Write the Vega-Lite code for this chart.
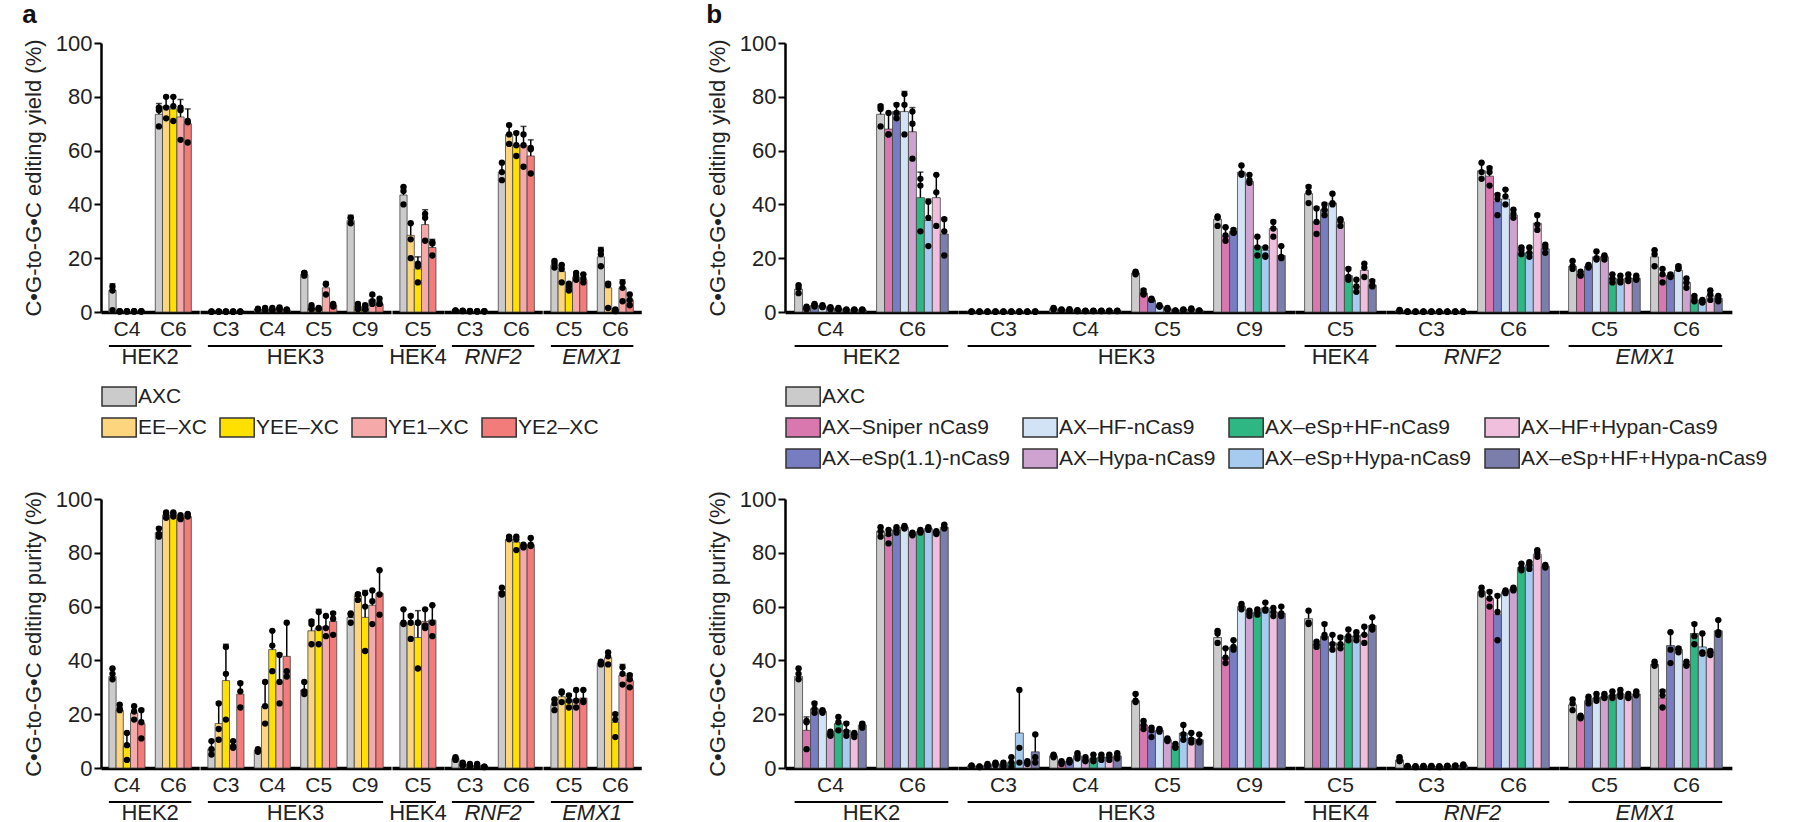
{
"$schema": "https://vega.github.io/schema/vega-lite/v6.json",
"background": "white",
"padding": {"left": 22, "top": 2, "right": 2, "bottom": 0},
"config": {"view": {"stroke": null}, "axis": {"grid": false, "labelOverlap": false}, "font": "Liberation Sans"},
"datasets": {
"ay": [
{"gene":"HEK2","site":"C4","variant":"AXC","mean":8,"hi":10.5,"r1":9.5,"r2":8,"r3":0.7},
{"gene":"HEK2","site":"C4","variant":"EE–XC","mean":0.2,"hi":0.2,"r1":0.3,"r2":0.2,"r3":0.2},
{"gene":"HEK2","site":"C4","variant":"YEE–XC","mean":0.2,"hi":0.2,"r1":0.3,"r2":0.2,"r3":0.2},
{"gene":"HEK2","site":"C4","variant":"YE1–XC","mean":0.2,"hi":0.2,"r1":0.3,"r2":0.2,"r3":0.2},
{"gene":"HEK2","site":"C4","variant":"YE2–XC","mean":0.2,"hi":0.2,"r1":0.3,"r2":0.2,"r3":0.2},
{"gene":"HEK2","site":"C6","variant":"AXC","mean":73.5,"hi":77.5,"r1":76,"r2":75,"r3":69},
{"gene":"HEK2","site":"C6","variant":"EE–XC","mean":76.5,"hi":80,"r1":80,"r2":76,"r3":72},
{"gene":"HEK2","site":"C6","variant":"YEE–XC","mean":75.5,"hi":80,"r1":80,"r2":76.5,"r3":71},
{"gene":"HEK2","site":"C6","variant":"YE1–XC","mean":72.5,"hi":79,"r1":76,"r2":75,"r3":64},
{"gene":"HEK2","site":"C6","variant":"YE2–XC","mean":70,"hi":75.5,"r1":71,"r2":70.5,"r3":63},
{"gene":"HEK3","site":"C3","variant":"AXC","mean":0.1,"hi":0.1,"r1":0.2,"r2":0.1,"r3":0.1},
{"gene":"HEK3","site":"C3","variant":"EE–XC","mean":0.1,"hi":0.1,"r1":0.2,"r2":0.1,"r3":0.1},
{"gene":"HEK3","site":"C3","variant":"YEE–XC","mean":0.1,"hi":0.1,"r1":0.2,"r2":0.1,"r3":0.1},
{"gene":"HEK3","site":"C3","variant":"YE1–XC","mean":0.1,"hi":0.1,"r1":0.2,"r2":0.1,"r3":0.1},
{"gene":"HEK3","site":"C3","variant":"YE2–XC","mean":0.1,"hi":0.1,"r1":0.2,"r2":0.1,"r3":0.1},
{"gene":"HEK3","site":"C4","variant":"AXC","mean":1,"hi":1.2,"r1":1.2,"r2":1,"r3":0.8},
{"gene":"HEK3","site":"C4","variant":"EE–XC","mean":1,"hi":1.3,"r1":1.5,"r2":1,"r3":0.6},
{"gene":"HEK3","site":"C4","variant":"YEE–XC","mean":1,"hi":1.4,"r1":1.5,"r2":1,"r3":0.5},
{"gene":"HEK3","site":"C4","variant":"YE1–XC","mean":1.2,"hi":1.6,"r1":1.7,"r2":1.2,"r3":0.8},
{"gene":"HEK3","site":"C4","variant":"YE2–XC","mean":0.8,"hi":1,"r1":1,"r2":0.8,"r3":0.5},
{"gene":"HEK3","site":"C5","variant":"AXC","mean":14,"hi":14.8,"r1":14.5,"r2":14.5,"r3":13.5},
{"gene":"HEK3","site":"C5","variant":"EE–XC","mean":1.5,"hi":2,"r1":2.5,"r2":1.2,"r3":1},
{"gene":"HEK3","site":"C5","variant":"YEE–XC","mean":1.2,"hi":1.6,"r1":1.5,"r2":1.2,"r3":1},
{"gene":"HEK3","site":"C5","variant":"YE1–XC","mean":9,"hi":11,"r1":10.5,"r2":10.3,"r3":6.5},
{"gene":"HEK3","site":"C5","variant":"YE2–XC","mean":2.5,"hi":3,"r1":3,"r2":2.5,"r3":2},
{"gene":"HEK3","site":"C9","variant":"AXC","mean":34,"hi":36,"r1":35,"r2":35,"r3":33},
{"gene":"HEK3","site":"C9","variant":"EE–XC","mean":2,"hi":3,"r1":3,"r2":2,"r3":1},
{"gene":"HEK3","site":"C9","variant":"YEE–XC","mean":1.5,"hi":2.2,"r1":2.5,"r2":1,"r3":1},
{"gene":"HEK3","site":"C9","variant":"YE1–XC","mean":4.5,"hi":6,"r1":6.5,"r2":4,"r3":3},
{"gene":"HEK3","site":"C9","variant":"YE2–XC","mean":3,"hi":4,"r1":5,"r2":3,"r3":3},
{"gene":"HEK4","site":"C5","variant":"AXC","mean":43.5,"hi":46.5,"r1":46.5,"r2":45,"r3":40},
{"gene":"HEK4","site":"C5","variant":"EE–XC","mean":28.5,"hi":33,"r1":33,"r2":27,"r3":20},
{"gene":"HEK4","site":"C5","variant":"YEE–XC","mean":16,"hi":20.5,"r1":18,"r2":17,"r3":11},
{"gene":"HEK4","site":"C5","variant":"YE1–XC","mean":32.5,"hi":38,"r1":36.5,"r2":35,"r3":26.5},
{"gene":"HEK4","site":"C5","variant":"YE2–XC","mean":24,"hi":27,"r1":26,"r2":25.5,"r3":21},
{"gene":"RNF2","site":"C3","variant":"AXC","mean":0.5,"hi":0.6,"r1":0.6,"r2":0.5,"r3":0.4},
{"gene":"RNF2","site":"C3","variant":"EE–XC","mean":0.4,"hi":0.5,"r1":0.5,"r2":0.4,"r3":0.3},
{"gene":"RNF2","site":"C3","variant":"YEE–XC","mean":0.3,"hi":0.3,"r1":0.4,"r2":0.3,"r3":0.2},
{"gene":"RNF2","site":"C3","variant":"YE1–XC","mean":0.2,"hi":0.2,"r1":0.3,"r2":0.2,"r3":0.2},
{"gene":"RNF2","site":"C3","variant":"YE2–XC","mean":0.2,"hi":0.2,"r1":0.3,"r2":0.2,"r3":0.2},
{"gene":"RNF2","site":"C6","variant":"AXC","mean":52,"hi":55.5,"r1":55.5,"r2":52,"r3":49},
{"gene":"RNF2","site":"C6","variant":"EE–XC","mean":66,"hi":69.5,"r1":69.5,"r2":66,"r3":62.5},
{"gene":"RNF2","site":"C6","variant":"YEE–XC","mean":62,"hi":67,"r1":66.5,"r2":62,"r3":58},
{"gene":"RNF2","site":"C6","variant":"YE1–XC","mean":62,"hi":69,"r1":66,"r2":62,"r3":54},
{"gene":"RNF2","site":"C6","variant":"YE2–XC","mean":58,"hi":64,"r1":61,"r2":60.5,"r3":51.5},
{"gene":"EMX1","site":"C5","variant":"AXC","mean":17.5,"hi":19,"r1":19,"r2":18,"r3":16.5},
{"gene":"EMX1","site":"C5","variant":"EE–XC","mean":15,"hi":17.5,"r1":17.5,"r2":16,"r3":11},
{"gene":"EMX1","site":"C5","variant":"YEE–XC","mean":9,"hi":10.5,"r1":10.5,"r2":9.5,"r3":8},
{"gene":"EMX1","site":"C5","variant":"YE1–XC","mean":13,"hi":14.5,"r1":14.5,"r2":13.5,"r3":12},
{"gene":"EMX1","site":"C5","variant":"YE2–XC","mean":12,"hi":14,"r1":14,"r2":12.5,"r3":11},
{"gene":"EMX1","site":"C6","variant":"AXC","mean":20.5,"hi":24,"r1":23,"r2":21.5,"r3":17},
{"gene":"EMX1","site":"C6","variant":"EE–XC","mean":9,"hi":11,"r1":10.5,"r2":10,"r3":1.5},
{"gene":"EMX1","site":"C6","variant":"YEE–XC","mean":0.5,"hi":1,"r1":1,"r2":0.5,"r3":0.3},
{"gene":"EMX1","site":"C6","variant":"YE1–XC","mean":9,"hi":12,"r1":11,"r2":9,"r3":4},
{"gene":"EMX1","site":"C6","variant":"YE2–XC","mean":4.5,"hi":6.5,"r1":6.5,"r2":4.5,"r3":2.5}
],
"ap": [
{"gene":"HEK2","site":"C4","variant":"AXC","mean":34,"hi":37,"r1":37,"r2":35,"r3":33},
{"gene":"HEK2","site":"C4","variant":"EE–XC","mean":21.5,"hi":23.5,"r1":23.5,"r2":22,"r3":21.5},
{"gene":"HEK2","site":"C4","variant":"YEE–XC","mean":8,"hi":13,"r1":13,"r2":8.5,"r3":3},
{"gene":"HEK2","site":"C4","variant":"YE1–XC","mean":20.5,"hi":23,"r1":23,"r2":21,"r3":18},
{"gene":"HEK2","site":"C4","variant":"YE2–XC","mean":16.5,"hi":22,"r1":21.5,"r2":17,"r3":11},
{"gene":"HEK2","site":"C6","variant":"AXC","mean":87.5,"hi":89.5,"r1":89,"r2":87,"r3":86},
{"gene":"HEK2","site":"C6","variant":"EE–XC","mean":94,"hi":95,"r1":95,"r2":94.5,"r3":93},
{"gene":"HEK2","site":"C6","variant":"YEE–XC","mean":94,"hi":95,"r1":95,"r2":94.5,"r3":93.5},
{"gene":"HEK2","site":"C6","variant":"YE1–XC","mean":93,"hi":94,"r1":94,"r2":93,"r3":92.5},
{"gene":"HEK2","site":"C6","variant":"YE2–XC","mean":93.5,"hi":94.5,"r1":94.5,"r2":94,"r3":93.5},
{"gene":"HEK3","site":"C3","variant":"AXC","mean":7,"hi":10,"r1":10,"r2":7,"r3":5},
{"gene":"HEK3","site":"C3","variant":"EE–XC","mean":16.5,"hi":24.5,"r1":24,"r2":14.5,"r3":10.5},
{"gene":"HEK3","site":"C3","variant":"YEE–XC","mean":32.5,"hi":46,"r1":45,"r2":35,"r3":18},
{"gene":"HEK3","site":"C3","variant":"YE1–XC","mean":8.5,"hi":10,"r1":10,"r2":8,"r3":7.5},
{"gene":"HEK3","site":"C3","variant":"YE2–XC","mean":27.5,"hi":32,"r1":31.5,"r2":28.5,"r3":22.5},
{"gene":"HEK3","site":"C4","variant":"AXC","mean":6.5,"hi":7,"r1":7,"r2":6.5,"r3":6},
{"gene":"HEK3","site":"C4","variant":"EE–XC","mean":23,"hi":32,"r1":32,"r2":23,"r3":16.5},
{"gene":"HEK3","site":"C4","variant":"YEE–XC","mean":44,"hi":51,"r1":51,"r2":45.5,"r3":36},
{"gene":"HEK3","site":"C4","variant":"YE1–XC","mean":32,"hi":42.5,"r1":42,"r2":32,"r3":24},
{"gene":"HEK3","site":"C4","variant":"YE2–XC","mean":41.5,"hi":54,"r1":54,"r2":36,"r3":34},
{"gene":"HEK3","site":"C5","variant":"AXC","mean":29,"hi":32,"r1":32,"r2":28.5,"r3":27.5},
{"gene":"HEK3","site":"C5","variant":"EE–XC","mean":51,"hi":55,"r1":54.5,"r2":53.5,"r3":46},
{"gene":"HEK3","site":"C5","variant":"YEE–XC","mean":52,"hi":59,"r1":58,"r2":52,"r3":46},
{"gene":"HEK3","site":"C5","variant":"YE1–XC","mean":52.5,"hi":56,"r1":56.5,"r2":52,"r3":49},
{"gene":"HEK3","site":"C5","variant":"YE2–XC","mean":54.5,"hi":58,"r1":57.5,"r2":55.5,"r3":49.5},
{"gene":"HEK3","site":"C9","variant":"AXC","mean":56,"hi":57.5,"r1":57.5,"r2":57,"r3":54},
{"gene":"HEK3","site":"C9","variant":"EE–XC","mean":64,"hi":65,"r1":64.5,"r2":64.5,"r3":62.5},
{"gene":"HEK3","site":"C9","variant":"YEE–XC","mean":56,"hi":66,"r1":65,"r2":60,"r3":43.5},
{"gene":"HEK3","site":"C9","variant":"YE1–XC","mean":60.5,"hi":66,"r1":66,"r2":62,"r3":53.5},
{"gene":"HEK3","site":"C9","variant":"YE2–XC","mean":65,"hi":73.5,"r1":73.5,"r2":64.5,"r3":57},
{"gene":"HEK4","site":"C5","variant":"AXC","mean":54,"hi":59,"r1":59,"r2":54,"r3":53.5},
{"gene":"HEK4","site":"C5","variant":"EE–XC","mean":53.5,"hi":57,"r1":56.5,"r2":54,"r3":48},
{"gene":"HEK4","site":"C5","variant":"YEE–XC","mean":48.5,"hi":58.5,"r1":54,"r2":54,"r3":37},
{"gene":"HEK4","site":"C5","variant":"YE1–XC","mean":54.5,"hi":59,"r1":59,"r2":53,"r3":52},
{"gene":"HEK4","site":"C5","variant":"YE2–XC","mean":55,"hi":60.5,"r1":60.5,"r2":54,"r3":49},
{"gene":"RNF2","site":"C3","variant":"AXC","mean":3.5,"hi":4,"r1":4,"r2":3.5,"r3":3},
{"gene":"RNF2","site":"C3","variant":"EE–XC","mean":1.5,"hi":2,"r1":2,"r2":1,"r3":1},
{"gene":"RNF2","site":"C3","variant":"YEE–XC","mean":1,"hi":1.5,"r1":1.5,"r2":1,"r3":0.5},
{"gene":"RNF2","site":"C3","variant":"YE1–XC","mean":1,"hi":1.5,"r1":1.5,"r2":0.5,"r3":0.5},
{"gene":"RNF2","site":"C3","variant":"YE2–XC","mean":0.5,"hi":0.6,"r1":0.5,"r2":0.5,"r3":0.3},
{"gene":"RNF2","site":"C6","variant":"AXC","mean":65.5,"hi":67,"r1":67,"r2":65,"r3":64.5},
{"gene":"RNF2","site":"C6","variant":"EE–XC","mean":85,"hi":86,"r1":86,"r2":85.5,"r3":85},
{"gene":"RNF2","site":"C6","variant":"YEE–XC","mean":84,"hi":86,"r1":86,"r2":85,"r3":81},
{"gene":"RNF2","site":"C6","variant":"YE1–XC","mean":82.5,"hi":83,"r1":83,"r2":82.5,"r3":82},
{"gene":"RNF2","site":"C6","variant":"YE2–XC","mean":83,"hi":85.5,"r1":85.5,"r2":83,"r3":82.5},
{"gene":"EMX1","site":"C5","variant":"AXC","mean":23.5,"hi":25.5,"r1":25.5,"r2":24,"r3":21.5},
{"gene":"EMX1","site":"C5","variant":"EE–XC","mean":26.5,"hi":28.5,"r1":28.5,"r2":28,"r3":24.5},
{"gene":"EMX1","site":"C5","variant":"YEE–XC","mean":25,"hi":27.5,"r1":27,"r2":25,"r3":22.5},
{"gene":"EMX1","site":"C5","variant":"YE1–XC","mean":25.5,"hi":29,"r1":29,"r2":25,"r3":22.5},
{"gene":"EMX1","site":"C5","variant":"YE2–XC","mean":26,"hi":29,"r1":29,"r2":25,"r3":24.5},
{"gene":"EMX1","site":"C6","variant":"AXC","mean":39,"hi":39.5,"r1":39.5,"r2":39,"r3":38.5},
{"gene":"EMX1","site":"C6","variant":"EE–XC","mean":41,"hi":43,"r1":43,"r2":41.5,"r3":38.5},
{"gene":"EMX1","site":"C6","variant":"YEE–XC","mean":17,"hi":20.5,"r1":20,"r2":18,"r3":11.5},
{"gene":"EMX1","site":"C6","variant":"YE1–XC","mean":34.5,"hi":38.5,"r1":37.5,"r2":35,"r3":31},
{"gene":"EMX1","site":"C6","variant":"YE2–XC","mean":32.5,"hi":35,"r1":34.5,"r2":33,"r3":30}
],
"by": [
{"gene":"HEK2","site":"C4","variant":"AXC","mean":8.5,"hi":10,"r1":10,"r2":9,"r3":7},
{"gene":"HEK2","site":"C4","variant":"AX–Sniper nCas9","mean":1.5,"hi":2,"r1":2,"r2":1.5,"r3":1},
{"gene":"HEK2","site":"C4","variant":"AX–eSp(1.1)-nCas9","mean":2.5,"hi":3,"r1":3,"r2":2.5,"r3":2},
{"gene":"HEK2","site":"C4","variant":"AX–HF-nCas9","mean":2,"hi":2.5,"r1":2.5,"r2":2,"r3":1.8},
{"gene":"HEK2","site":"C4","variant":"AX–Hypa-nCas9","mean":1.5,"hi":1.8,"r1":1.8,"r2":1.5,"r3":1},
{"gene":"HEK2","site":"C4","variant":"AX–eSp+HF-nCas9","mean":1.2,"hi":1.4,"r1":1.5,"r2":1,"r3":1},
{"gene":"HEK2","site":"C4","variant":"AX–eSp+Hypa-nCas9","mean":0.8,"hi":1,"r1":1,"r2":0.8,"r3":0.5},
{"gene":"HEK2","site":"C4","variant":"AX–HF+Hypan-Cas9","mean":0.8,"hi":1,"r1":1,"r2":0.8,"r3":0.6},
{"gene":"HEK2","site":"C4","variant":"AX–eSp+HF+Hypa-nCas9","mean":0.8,"hi":1,"r1":1,"r2":0.8,"r3":0.6},
{"gene":"HEK2","site":"C6","variant":"AXC","mean":73.5,"hi":77,"r1":76.5,"r2":75.5,"r3":69},
{"gene":"HEK2","site":"C6","variant":"AX–Sniper nCas9","mean":68,"hi":74,"r1":74,"r2":66,"r3":66},
{"gene":"HEK2","site":"C6","variant":"AX–eSp(1.1)-nCas9","mean":74.5,"hi":77.5,"r1":77,"r2":74,"r3":72},
{"gene":"HEK2","site":"C6","variant":"AX–HF-nCas9","mean":74.5,"hi":82,"r1":81,"r2":77,"r3":66},
{"gene":"HEK2","site":"C6","variant":"AX–Hypa-nCas9","mean":67,"hi":76,"r1":74.5,"r2":70,"r3":57},
{"gene":"HEK2","site":"C6","variant":"AX–eSp+HF-nCas9","mean":42.5,"hi":52,"r1":49.5,"r2":47,"r3":30},
{"gene":"HEK2","site":"C6","variant":"AX–eSp+Hypa-nCas9","mean":34,"hi":42,"r1":41,"r2":35,"r3":24.5},
{"gene":"HEK2","site":"C6","variant":"AX–HF+Hypan-Cas9","mean":42.5,"hi":51,"r1":51,"r2":44.5,"r3":32},
{"gene":"HEK2","site":"C6","variant":"AX–eSp+HF+Hypa-nCas9","mean":29,"hi":35,"r1":34.5,"r2":30,"r3":21},
{"gene":"HEK3","site":"C3","variant":"AXC","mean":0.1,"hi":0.1,"r1":0.2,"r2":0.1,"r3":0.1},
{"gene":"HEK3","site":"C3","variant":"AX–Sniper nCas9","mean":0.1,"hi":0.1,"r1":0.2,"r2":0.1,"r3":0.1},
{"gene":"HEK3","site":"C3","variant":"AX–eSp(1.1)-nCas9","mean":0.1,"hi":0.1,"r1":0.2,"r2":0.1,"r3":0.1},
{"gene":"HEK3","site":"C3","variant":"AX–HF-nCas9","mean":0.1,"hi":0.1,"r1":0.2,"r2":0.1,"r3":0.1},
{"gene":"HEK3","site":"C3","variant":"AX–Hypa-nCas9","mean":0.1,"hi":0.1,"r1":0.2,"r2":0.1,"r3":0.1},
{"gene":"HEK3","site":"C3","variant":"AX–eSp+HF-nCas9","mean":0.1,"hi":0.1,"r1":0.2,"r2":0.1,"r3":0.1},
{"gene":"HEK3","site":"C3","variant":"AX–eSp+Hypa-nCas9","mean":0.1,"hi":0.1,"r1":0.2,"r2":0.1,"r3":0.1},
{"gene":"HEK3","site":"C3","variant":"AX–HF+Hypan-Cas9","mean":0.1,"hi":0.1,"r1":0.2,"r2":0.1,"r3":0.1},
{"gene":"HEK3","site":"C3","variant":"AX–eSp+HF+Hypa-nCas9","mean":0.1,"hi":0.1,"r1":0.2,"r2":0.1,"r3":0.1},
{"gene":"HEK3","site":"C4","variant":"AXC","mean":1.2,"hi":1.5,"r1":1.5,"r2":1.2,"r3":0.9},
{"gene":"HEK3","site":"C4","variant":"AX–Sniper nCas9","mean":0.8,"hi":1,"r1":1,"r2":0.8,"r3":0.5},
{"gene":"HEK3","site":"C4","variant":"AX–eSp(1.1)-nCas9","mean":0.8,"hi":1,"r1":1.1,"r2":0.7,"r3":0.5},
{"gene":"HEK3","site":"C4","variant":"AX–HF-nCas9","mean":0.5,"hi":0.6,"r1":0.7,"r2":0.5,"r3":0.3},
{"gene":"HEK3","site":"C4","variant":"AX–Hypa-nCas9","mean":0.4,"hi":0.5,"r1":0.5,"r2":0.4,"r3":0.3},
{"gene":"HEK3","site":"C4","variant":"AX–eSp+HF-nCas9","mean":0.4,"hi":0.5,"r1":0.5,"r2":0.4,"r3":0.3},
{"gene":"HEK3","site":"C4","variant":"AX–eSp+Hypa-nCas9","mean":0.4,"hi":0.5,"r1":0.5,"r2":0.4,"r3":0.3},
{"gene":"HEK3","site":"C4","variant":"AX–HF+Hypan-Cas9","mean":0.4,"hi":0.5,"r1":0.5,"r2":0.4,"r3":0.3},
{"gene":"HEK3","site":"C4","variant":"AX–eSp+HF+Hypa-nCas9","mean":0.4,"hi":0.5,"r1":0.5,"r2":0.4,"r3":0.3},
{"gene":"HEK3","site":"C5","variant":"AXC","mean":14.5,"hi":15,"r1":15,"r2":14.5,"r3":14},
{"gene":"HEK3","site":"C5","variant":"AX–Sniper nCas9","mean":7,"hi":8.5,"r1":8,"r2":7,"r3":6.5},
{"gene":"HEK3","site":"C5","variant":"AX–eSp(1.1)-nCas9","mean":4.5,"hi":5,"r1":5,"r2":4.5,"r3":4.5},
{"gene":"HEK3","site":"C5","variant":"AX–HF-nCas9","mean":2.2,"hi":2.5,"r1":2.5,"r2":2,"r3":2},
{"gene":"HEK3","site":"C5","variant":"AX–Hypa-nCas9","mean":1.2,"hi":1.5,"r1":1.5,"r2":1,"r3":1},
{"gene":"HEK3","site":"C5","variant":"AX–eSp+HF-nCas9","mean":0.5,"hi":0.6,"r1":0.6,"r2":0.5,"r3":0.4},
{"gene":"HEK3","site":"C5","variant":"AX–eSp+Hypa-nCas9","mean":0.8,"hi":1,"r1":1,"r2":0.8,"r3":0.6},
{"gene":"HEK3","site":"C5","variant":"AX–HF+Hypan-Cas9","mean":1,"hi":1.3,"r1":1.3,"r2":1,"r3":0.8},
{"gene":"HEK3","site":"C5","variant":"AX–eSp+HF+Hypa-nCas9","mean":0.5,"hi":0.6,"r1":0.6,"r2":0.5,"r3":0.4},
{"gene":"HEK3","site":"C9","variant":"AXC","mean":34.5,"hi":35.5,"r1":35.5,"r2":35,"r3":32},
{"gene":"HEK3","site":"C9","variant":"AX–Sniper nCas9","mean":28,"hi":31.5,"r1":31.5,"r2":28.5,"r3":26.5},
{"gene":"HEK3","site":"C9","variant":"AX–eSp(1.1)-nCas9","mean":30,"hi":31,"r1":30.5,"r2":29.5,"r3":29.5},
{"gene":"HEK3","site":"C9","variant":"AX–HF-nCas9","mean":52,"hi":54.5,"r1":54.5,"r2":51.5,"r3":51},
{"gene":"HEK3","site":"C9","variant":"AX–Hypa-nCas9","mean":48.5,"hi":51,"r1":51,"r2":49,"r3":48},
{"gene":"HEK3","site":"C9","variant":"AX–eSp+HF-nCas9","mean":24.5,"hi":28,"r1":28,"r2":24,"r3":21},
{"gene":"HEK3","site":"C9","variant":"AX–eSp+Hypa-nCas9","mean":23,"hi":24,"r1":24,"r2":21,"r3":20.5},
{"gene":"HEK3","site":"C9","variant":"AX–HF+Hypan-Cas9","mean":31,"hi":34,"r1":33.5,"r2":31,"r3":28},
{"gene":"HEK3","site":"C9","variant":"AX–eSp+HF+Hypa-nCas9","mean":21,"hi":24.5,"r1":24.5,"r2":20.5,"r3":20},
{"gene":"HEK4","site":"C5","variant":"AXC","mean":44,"hi":47,"r1":46.5,"r2":44.5,"r3":40.5},
{"gene":"HEK4","site":"C5","variant":"AX–Sniper nCas9","mean":33.5,"hi":39,"r1":38.5,"r2":33.5,"r3":29},
{"gene":"HEK4","site":"C5","variant":"AX–eSp(1.1)-nCas9","mean":38,"hi":40.5,"r1":40,"r2":38,"r3":36},
{"gene":"HEK4","site":"C5","variant":"AX–HF-nCas9","mean":40.5,"hi":44,"r1":44,"r2":40.5,"r3":40},
{"gene":"HEK4","site":"C5","variant":"AX–Hypa-nCas9","mean":33.5,"hi":34.5,"r1":34.5,"r2":34,"r3":32},
{"gene":"HEK4","site":"C5","variant":"AX–eSp+HF-nCas9","mean":13.5,"hi":16.5,"r1":16,"r2":13,"r3":12},
{"gene":"HEK4","site":"C5","variant":"AX–eSp+Hypa-nCas9","mean":9.5,"hi":12,"r1":12,"r2":9.5,"r3":7.5},
{"gene":"HEK4","site":"C5","variant":"AX–HF+Hypan-Cas9","mean":15.5,"hi":18,"r1":18,"r2":16.5,"r3":13},
{"gene":"HEK4","site":"C5","variant":"AX–eSp+HF+Hypa-nCas9","mean":10,"hi":12,"r1":11.5,"r2":10,"r3":9.5},
{"gene":"RNF2","site":"C3","variant":"AXC","mean":0.5,"hi":0.7,"r1":0.8,"r2":0.5,"r3":0.3},
{"gene":"RNF2","site":"C3","variant":"AX–Sniper nCas9","mean":0.1,"hi":0.1,"r1":0.2,"r2":0.1,"r3":0.1},
{"gene":"RNF2","site":"C3","variant":"AX–eSp(1.1)-nCas9","mean":0.1,"hi":0.1,"r1":0.2,"r2":0.1,"r3":0.1},
{"gene":"RNF2","site":"C3","variant":"AX–HF-nCas9","mean":0.1,"hi":0.1,"r1":0.2,"r2":0.1,"r3":0.1},
{"gene":"RNF2","site":"C3","variant":"AX–Hypa-nCas9","mean":0.1,"hi":0.1,"r1":0.2,"r2":0.1,"r3":0.1},
{"gene":"RNF2","site":"C3","variant":"AX–eSp+HF-nCas9","mean":0.1,"hi":0.1,"r1":0.2,"r2":0.1,"r3":0.1},
{"gene":"RNF2","site":"C3","variant":"AX–eSp+Hypa-nCas9","mean":0.1,"hi":0.1,"r1":0.2,"r2":0.1,"r3":0.1},
{"gene":"RNF2","site":"C3","variant":"AX–HF+Hypan-Cas9","mean":0.1,"hi":0.1,"r1":0.2,"r2":0.1,"r3":0.1},
{"gene":"RNF2","site":"C3","variant":"AX–eSp+HF+Hypa-nCas9","mean":0.1,"hi":0.1,"r1":0.2,"r2":0.1,"r3":0.1},
{"gene":"RNF2","site":"C6","variant":"AXC","mean":52.5,"hi":55.5,"r1":55.5,"r2":52,"r3":49.5},
{"gene":"RNF2","site":"C6","variant":"AX–Sniper nCas9","mean":50.5,"hi":54,"r1":53.5,"r2":52,"r3":47},
{"gene":"RNF2","site":"C6","variant":"AX–eSp(1.1)-nCas9","mean":41,"hi":44,"r1":43.5,"r2":42,"r3":36},
{"gene":"RNF2","site":"C6","variant":"AX–HF-nCas9","mean":42,"hi":45.5,"r1":45.5,"r2":43,"r3":40},
{"gene":"RNF2","site":"C6","variant":"AX–Hypa-nCas9","mean":36,"hi":38,"r1":38,"r2":36.5,"r3":35},
{"gene":"RNF2","site":"C6","variant":"AX–eSp+HF-nCas9","mean":22,"hi":24,"r1":24,"r2":23,"r3":21.5},
{"gene":"RNF2","site":"C6","variant":"AX–eSp+Hypa-nCas9","mean":22,"hi":24,"r1":24,"r2":22,"r3":20.5},
{"gene":"RNF2","site":"C6","variant":"AX–HF+Hypan-Cas9","mean":33,"hi":36.5,"r1":36,"r2":32.5,"r3":30.5},
{"gene":"RNF2","site":"C6","variant":"AX–eSp+HF+Hypa-nCas9","mean":23.5,"hi":25,"r1":25,"r2":24,"r3":22},
{"gene":"EMX1","site":"C5","variant":"AXC","mean":17,"hi":19,"r1":19,"r2":17,"r3":16},
{"gene":"EMX1","site":"C5","variant":"AX–Sniper nCas9","mean":14,"hi":15,"r1":15,"r2":14,"r3":13.5},
{"gene":"EMX1","site":"C5","variant":"AX–eSp(1.1)-nCas9","mean":17,"hi":17.5,"r1":17.5,"r2":17,"r3":16.5},
{"gene":"EMX1","site":"C5","variant":"AX–HF-nCas9","mean":20.5,"hi":22.5,"r1":22.5,"r2":20,"r3":19.5},
{"gene":"EMX1","site":"C5","variant":"AX–Hypa-nCas9","mean":20.5,"hi":21,"r1":21,"r2":20.5,"r3":19.5},
{"gene":"EMX1","site":"C5","variant":"AX–eSp+HF-nCas9","mean":12.5,"hi":14,"r1":14,"r2":12.5,"r3":11},
{"gene":"EMX1","site":"C5","variant":"AX–eSp+Hypa-nCas9","mean":12,"hi":13.5,"r1":13.5,"r2":12,"r3":11},
{"gene":"EMX1","site":"C5","variant":"AX–HF+Hypan-Cas9","mean":12.5,"hi":14,"r1":14,"r2":12.5,"r3":11.5},
{"gene":"EMX1","site":"C5","variant":"AX–eSp+HF+Hypa-nCas9","mean":12.5,"hi":13.5,"r1":13.5,"r2":12.5,"r3":12},
{"gene":"EMX1","site":"C6","variant":"AXC","mean":20.5,"hi":23,"r1":23,"r2":21.5,"r3":17},
{"gene":"EMX1","site":"C6","variant":"AX–Sniper nCas9","mean":13.5,"hi":16,"r1":16,"r2":14,"r3":11},
{"gene":"EMX1","site":"C6","variant":"AX–eSp(1.1)-nCas9","mean":13.5,"hi":14.5,"r1":14,"r2":13.5,"r3":13},
{"gene":"EMX1","site":"C6","variant":"AX–HF-nCas9","mean":15.5,"hi":17.5,"r1":17,"r2":16.5,"r3":16},
{"gene":"EMX1","site":"C6","variant":"AX–Hypa-nCas9","mean":11,"hi":12.5,"r1":12.5,"r2":11,"r3":9},
{"gene":"EMX1","site":"C6","variant":"AX–eSp+HF-nCas9","mean":4.5,"hi":6,"r1":6,"r2":5,"r3":4},
{"gene":"EMX1","site":"C6","variant":"AX–eSp+Hypa-nCas9","mean":3.5,"hi":4.5,"r1":4.5,"r2":4,"r3":3.5},
{"gene":"EMX1","site":"C6","variant":"AX–HF+Hypan-Cas9","mean":6,"hi":8,"r1":8,"r2":6.5,"r3":4.5},
{"gene":"EMX1","site":"C6","variant":"AX–eSp+HF+Hypa-nCas9","mean":5,"hi":6,"r1":6,"r2":5,"r3":4}
],
"bp": [
{"gene":"HEK2","site":"C4","variant":"AXC","mean":34,"hi":37,"r1":37,"r2":35,"r3":33},
{"gene":"HEK2","site":"C4","variant":"AX–Sniper nCas9","mean":14,"hi":19,"r1":17.5,"r2":17,"r3":7},
{"gene":"HEK2","site":"C4","variant":"AX–eSp(1.1)-nCas9","mean":22,"hi":24.5,"r1":24,"r2":22,"r3":20.5},
{"gene":"HEK2","site":"C4","variant":"AX–HF-nCas9","mean":21,"hi":21.5,"r1":21.5,"r2":21,"r3":20.5},
{"gene":"HEK2","site":"C4","variant":"AX–Hypa-nCas9","mean":13,"hi":13.5,"r1":13.5,"r2":12.5,"r3":12},
{"gene":"HEK2","site":"C4","variant":"AX–eSp+HF-nCas9","mean":16.5,"hi":19,"r1":19,"r2":17,"r3":14},
{"gene":"HEK2","site":"C4","variant":"AX–eSp+Hypa-nCas9","mean":14,"hi":17,"r1":16.5,"r2":13.5,"r3":12},
{"gene":"HEK2","site":"C4","variant":"AX–HF+Hypan-Cas9","mean":12.5,"hi":13,"r1":13,"r2":12.5,"r3":11.5},
{"gene":"HEK2","site":"C4","variant":"AX–eSp+HF+Hypa-nCas9","mean":16,"hi":17,"r1":16.5,"r2":16,"r3":15},
{"gene":"HEK2","site":"C6","variant":"AXC","mean":88,"hi":89.5,"r1":89.5,"r2":88,"r3":86},
{"gene":"HEK2","site":"C6","variant":"AX–Sniper nCas9","mean":86.5,"hi":88.5,"r1":88.5,"r2":87,"r3":83.5},
{"gene":"HEK2","site":"C6","variant":"AX–eSp(1.1)-nCas9","mean":88.5,"hi":89.5,"r1":89.5,"r2":88.5,"r3":87.5},
{"gene":"HEK2","site":"C6","variant":"AX–HF-nCas9","mean":89.5,"hi":90,"r1":90,"r2":89.5,"r3":89},
{"gene":"HEK2","site":"C6","variant":"AX–Hypa-nCas9","mean":87,"hi":87.5,"r1":87.5,"r2":87,"r3":86.5},
{"gene":"HEK2","site":"C6","variant":"AX–eSp+HF-nCas9","mean":88,"hi":88.5,"r1":88.5,"r2":88,"r3":87.5},
{"gene":"HEK2","site":"C6","variant":"AX–eSp+Hypa-nCas9","mean":89,"hi":89.5,"r1":89.5,"r2":89,"r3":88.5},
{"gene":"HEK2","site":"C6","variant":"AX–HF+Hypan-Cas9","mean":87.5,"hi":88,"r1":88,"r2":87.5,"r3":87},
{"gene":"HEK2","site":"C6","variant":"AX–eSp+HF+Hypa-nCas9","mean":89.5,"hi":90.5,"r1":90.5,"r2":89.5,"r3":89},
{"gene":"HEK3","site":"C3","variant":"AXC","mean":0.8,"hi":1,"r1":1,"r2":0.8,"r3":0.5},
{"gene":"HEK3","site":"C3","variant":"AX–Sniper nCas9","mean":0.5,"hi":0.6,"r1":0.6,"r2":0.5,"r3":0.3},
{"gene":"HEK3","site":"C3","variant":"AX–eSp(1.1)-nCas9","mean":1,"hi":1.5,"r1":1.5,"r2":1,"r3":0.5},
{"gene":"HEK3","site":"C3","variant":"AX–HF-nCas9","mean":1.5,"hi":2,"r1":2,"r2":1.5,"r3":1},
{"gene":"HEK3","site":"C3","variant":"AX–Hypa-nCas9","mean":1.5,"hi":2,"r1":2,"r2":1,"r3":0.5},
{"gene":"HEK3","site":"C3","variant":"AX–eSp+HF-nCas9","mean":2,"hi":4,"r1":4,"r2":2,"r3":0.5},
{"gene":"HEK3","site":"C3","variant":"AX–eSp+Hypa-nCas9","mean":13,"hi":29,"r1":29,"r2":7.5,"r3":2},
{"gene":"HEK3","site":"C3","variant":"AX–HF+Hypan-Cas9","mean":2,"hi":2.5,"r1":2.5,"r2":2,"r3":1.5},
{"gene":"HEK3","site":"C3","variant":"AX–eSp+HF+Hypa-nCas9","mean":6,"hi":12.5,"r1":12.5,"r2":4,"r3":2},
{"gene":"HEK3","site":"C4","variant":"AXC","mean":4.5,"hi":5,"r1":5,"r2":4.5,"r3":4},
{"gene":"HEK3","site":"C4","variant":"AX–Sniper nCas9","mean":2,"hi":2.5,"r1":2.5,"r2":2,"r3":1.5},
{"gene":"HEK3","site":"C4","variant":"AX–eSp(1.1)-nCas9","mean":2.5,"hi":3,"r1":3,"r2":2.5,"r3":2},
{"gene":"HEK3","site":"C4","variant":"AX–HF-nCas9","mean":4.5,"hi":5.5,"r1":5.5,"r2":4.5,"r3":3.5},
{"gene":"HEK3","site":"C4","variant":"AX–Hypa-nCas9","mean":3,"hi":4,"r1":4,"r2":3,"r3":2.5},
{"gene":"HEK3","site":"C4","variant":"AX–eSp+HF-nCas9","mean":3.5,"hi":5,"r1":5,"r2":3.5,"r3":2.5},
{"gene":"HEK3","site":"C4","variant":"AX–eSp+Hypa-nCas9","mean":4,"hi":5,"r1":5,"r2":4,"r3":3},
{"gene":"HEK3","site":"C4","variant":"AX–HF+Hypan-Cas9","mean":4,"hi":5,"r1":5,"r2":4,"r3":3},
{"gene":"HEK3","site":"C4","variant":"AX–eSp+HF+Hypa-nCas9","mean":4.5,"hi":5.5,"r1":5.5,"r2":4.5,"r3":3.5},
{"gene":"HEK3","site":"C5","variant":"AXC","mean":25,"hi":27.5,"r1":27.5,"r2":25,"r3":24.5},
{"gene":"HEK3","site":"C5","variant":"AX–Sniper nCas9","mean":16,"hi":17.5,"r1":17.5,"r2":16,"r3":14.5},
{"gene":"HEK3","site":"C5","variant":"AX–eSp(1.1)-nCas9","mean":13.5,"hi":15,"r1":15,"r2":14,"r3":11.5},
{"gene":"HEK3","site":"C5","variant":"AX–HF-nCas9","mean":14,"hi":14.5,"r1":14.5,"r2":14,"r3":13.5},
{"gene":"HEK3","site":"C5","variant":"AX–Hypa-nCas9","mean":10.5,"hi":11,"r1":11,"r2":10.5,"r3":10},
{"gene":"HEK3","site":"C5","variant":"AX–eSp+HF-nCas9","mean":8,"hi":9,"r1":9,"r2":8,"r3":7.5},
{"gene":"HEK3","site":"C5","variant":"AX–eSp+Hypa-nCas9","mean":13,"hi":16,"r1":16,"r2":12.5,"r3":10.5},
{"gene":"HEK3","site":"C5","variant":"AX–HF+Hypan-Cas9","mean":11,"hi":13,"r1":13,"r2":10.5,"r3":9.5},
{"gene":"HEK3","site":"C5","variant":"AX–eSp+HF+Hypa-nCas9","mean":10.5,"hi":12.5,"r1":12.5,"r2":10,"r3":9.5},
{"gene":"HEK3","site":"C9","variant":"AXC","mean":48.5,"hi":51,"r1":51,"r2":50,"r3":46.5},
{"gene":"HEK3","site":"C9","variant":"AX–Sniper nCas9","mean":41,"hi":44.5,"r1":44.5,"r2":41,"r3":39},
{"gene":"HEK3","site":"C9","variant":"AX–eSp(1.1)-nCas9","mean":45,"hi":47.5,"r1":47.5,"r2":45,"r3":44},
{"gene":"HEK3","site":"C9","variant":"AX–HF-nCas9","mean":60,"hi":61,"r1":61,"r2":60,"r3":59},
{"gene":"HEK3","site":"C9","variant":"AX–Hypa-nCas9","mean":57.5,"hi":58.5,"r1":58.5,"r2":57.5,"r3":56.5},
{"gene":"HEK3","site":"C9","variant":"AX–eSp+HF-nCas9","mean":58,"hi":59,"r1":59,"r2":58,"r3":57},
{"gene":"HEK3","site":"C9","variant":"AX–eSp+Hypa-nCas9","mean":59.5,"hi":61.5,"r1":61.5,"r2":59,"r3":58.5},
{"gene":"HEK3","site":"C9","variant":"AX–HF+Hypan-Cas9","mean":58,"hi":59.5,"r1":59.5,"r2":58,"r3":56.5},
{"gene":"HEK3","site":"C9","variant":"AX–eSp+HF+Hypa-nCas9","mean":57.5,"hi":60,"r1":60,"r2":57.5,"r3":56.5},
{"gene":"HEK4","site":"C5","variant":"AXC","mean":55.5,"hi":58.5,"r1":58.5,"r2":54,"r3":53.5},
{"gene":"HEK4","site":"C5","variant":"AX–Sniper nCas9","mean":46,"hi":47,"r1":47,"r2":46,"r3":45},
{"gene":"HEK4","site":"C5","variant":"AX–eSp(1.1)-nCas9","mean":49,"hi":54,"r1":53.5,"r2":49.5,"r3":48.5},
{"gene":"HEK4","site":"C5","variant":"AX–HF-nCas9","mean":46.5,"hi":49.5,"r1":49.5,"r2":46,"r3":44},
{"gene":"HEK4","site":"C5","variant":"AX–Hypa-nCas9","mean":46,"hi":49,"r1":48.5,"r2":46,"r3":44.5},
{"gene":"HEK4","site":"C5","variant":"AX–eSp+HF-nCas9","mean":49,"hi":51.5,"r1":51.5,"r2":49,"r3":47.5},
{"gene":"HEK4","site":"C5","variant":"AX–eSp+Hypa-nCas9","mean":49,"hi":50.5,"r1":50.5,"r2":49,"r3":47.5},
{"gene":"HEK4","site":"C5","variant":"AX–HF+Hypan-Cas9","mean":49.5,"hi":52.5,"r1":52.5,"r2":49.5,"r3":46.5},
{"gene":"HEK4","site":"C5","variant":"AX–eSp+HF+Hypa-nCas9","mean":53,"hi":56,"r1":56,"r2":52.5,"r3":51.5},
{"gene":"RNF2","site":"C3","variant":"AXC","mean":3,"hi":4,"r1":4,"r2":3,"r3":2.5},
{"gene":"RNF2","site":"C3","variant":"AX–Sniper nCas9","mean":0.6,"hi":0.8,"r1":0.8,"r2":0.6,"r3":0.4},
{"gene":"RNF2","site":"C3","variant":"AX–eSp(1.1)-nCas9","mean":0.5,"hi":0.7,"r1":0.7,"r2":0.5,"r3":0.3},
{"gene":"RNF2","site":"C3","variant":"AX–HF-nCas9","mean":0.6,"hi":0.8,"r1":0.8,"r2":0.6,"r3":0.4},
{"gene":"RNF2","site":"C3","variant":"AX–Hypa-nCas9","mean":0.6,"hi":0.8,"r1":0.8,"r2":0.6,"r3":0.4},
{"gene":"RNF2","site":"C3","variant":"AX–eSp+HF-nCas9","mean":0.5,"hi":0.7,"r1":0.7,"r2":0.5,"r3":0.3},
{"gene":"RNF2","site":"C3","variant":"AX–eSp+Hypa-nCas9","mean":0.7,"hi":0.9,"r1":0.9,"r2":0.7,"r3":0.5},
{"gene":"RNF2","site":"C3","variant":"AX–HF+Hypan-Cas9","mean":0.8,"hi":1,"r1":1,"r2":0.8,"r3":0.5},
{"gene":"RNF2","site":"C3","variant":"AX–eSp+HF+Hypa-nCas9","mean":1,"hi":1.3,"r1":1.3,"r2":1,"r3":0.7},
{"gene":"RNF2","site":"C6","variant":"AXC","mean":65.5,"hi":67,"r1":67,"r2":65.5,"r3":64.5},
{"gene":"RNF2","site":"C6","variant":"AX–Sniper nCas9","mean":63,"hi":66,"r1":65.5,"r2":63,"r3":60},
{"gene":"RNF2","site":"C6","variant":"AX–eSp(1.1)-nCas9","mean":57,"hi":64.5,"r1":64,"r2":58,"r3":47.5},
{"gene":"RNF2","site":"C6","variant":"AX–HF-nCas9","mean":65.5,"hi":66,"r1":66,"r2":65.5,"r3":65},
{"gene":"RNF2","site":"C6","variant":"AX–Hypa-nCas9","mean":66.5,"hi":67,"r1":67,"r2":66.5,"r3":66},
{"gene":"RNF2","site":"C6","variant":"AX–eSp+HF-nCas9","mean":74.5,"hi":76,"r1":76,"r2":74.5,"r3":73.5},
{"gene":"RNF2","site":"C6","variant":"AX–eSp+Hypa-nCas9","mean":75.5,"hi":76.5,"r1":76.5,"r2":75.5,"r3":74},
{"gene":"RNF2","site":"C6","variant":"AX–HF+Hypan-Cas9","mean":79.5,"hi":81,"r1":81,"r2":80,"r3":78.5},
{"gene":"RNF2","site":"C6","variant":"AX–eSp+HF+Hypa-nCas9","mean":75,"hi":75.5,"r1":75.5,"r2":75,"r3":74.5},
{"gene":"EMX1","site":"C5","variant":"AXC","mean":23.5,"hi":25.5,"r1":25.5,"r2":24,"r3":21.5},
{"gene":"EMX1","site":"C5","variant":"AX–Sniper nCas9","mean":19,"hi":19.5,"r1":19.5,"r2":19,"r3":18.5},
{"gene":"EMX1","site":"C5","variant":"AX–eSp(1.1)-nCas9","mean":25,"hi":26.5,"r1":26.5,"r2":25.5,"r3":24},
{"gene":"EMX1","site":"C5","variant":"AX–HF-nCas9","mean":26,"hi":27.5,"r1":27.5,"r2":26,"r3":25},
{"gene":"EMX1","site":"C5","variant":"AX–Hypa-nCas9","mean":26.5,"hi":27.5,"r1":27.5,"r2":26.5,"r3":26},
{"gene":"EMX1","site":"C5","variant":"AX–eSp+HF-nCas9","mean":27,"hi":28.5,"r1":28.5,"r2":27,"r3":26},
{"gene":"EMX1","site":"C5","variant":"AX–eSp+Hypa-nCas9","mean":27.5,"hi":29,"r1":29,"r2":27.5,"r3":26.5},
{"gene":"EMX1","site":"C5","variant":"AX–HF+Hypan-Cas9","mean":26.5,"hi":27.5,"r1":27.5,"r2":26.5,"r3":26},
{"gene":"EMX1","site":"C5","variant":"AX–eSp+HF+Hypa-nCas9","mean":27.5,"hi":28.5,"r1":28.5,"r2":27.5,"r3":27},
{"gene":"EMX1","site":"C6","variant":"AXC","mean":38.5,"hi":39.5,"r1":39.5,"r2":38.5,"r3":38},
{"gene":"EMX1","site":"C6","variant":"AX–Sniper nCas9","mean":26,"hi":29,"r1":28.5,"r2":27,"r3":22.5},
{"gene":"EMX1","site":"C6","variant":"AX–eSp(1.1)-nCas9","mean":45.5,"hi":50.5,"r1":50.5,"r2":44,"r3":39},
{"gene":"EMX1","site":"C6","variant":"AX–HF-nCas9","mean":44,"hi":45,"r1":44.5,"r2":44,"r3":43},
{"gene":"EMX1","site":"C6","variant":"AX–Hypa-nCas9","mean":38.5,"hi":39.5,"r1":39.5,"r2":38.5,"r3":38},
{"gene":"EMX1","site":"C6","variant":"AX–eSp+HF-nCas9","mean":50,"hi":54,"r1":53.5,"r2":49,"r3":46},
{"gene":"EMX1","site":"C6","variant":"AX–eSp+Hypa-nCas9","mean":45,"hi":50,"r1":50,"r2":43,"r3":42.5},
{"gene":"EMX1","site":"C6","variant":"AX–HF+Hypan-Cas9","mean":43,"hi":44,"r1":43.5,"r2":43,"r3":42},
{"gene":"EMX1","site":"C6","variant":"AX–eSp+HF+Hypa-nCas9","mean":51,"hi":55,"r1":55,"r2":50.5,"r3":49.5}
]
},
"spacing": 17,
"resolve": {"scale": {"x": "independent", "xOffset": "independent", "y": "independent", "fill": "independent"}, "axis": {"x": "independent", "y": "independent"}, "legend": {"fill": "independent"}},
"vconcat": [
{"hconcat": [
{"data": {"name": "ay"},
 "title": {"text": "a", "anchor": "start", "fontSize": 26, "fontWeight": "bold", "color": "#111", "offset": 4},
 "facet": {"column": {"field": "gene", "type": "nominal", "sort": ["HEK2","HEK3","HEK4","RNF2","EMX1"], "title": null,
   "header": {"labelOrient": "bottom", "labelFont": "Liberation Sans", "labelFontSize": 22, "labelColor": "#222", "labelPadding": 0,
     "labelFontStyle": {"expr": "(parent.gene == 'RNF2' || parent.gene == 'EMX1') ? 'italic' : 'normal'"}}}},
 "spacing": 0,
 "resolve": {"scale": {"x": "independent", "xOffset": "independent"}},
 "spec": {"width": {"step": 46.4, "for": "position"}, "height": 269,
  "layer": [
   {"mark": {"type": "bar", "stroke": "#444", "strokeWidth": 0.8},
    "encoding": {
     "x": {"field": "site", "type": "nominal", "scale": {"paddingInner": 0.223, "paddingOuter": 0.17},
       "axis": {"title": null, "labelAngle": 0, "ticks": false, "domainWidth": 3.5, "domainColor": "black", "labelFont": "Liberation Sans", "labelFontSize": 21, "labelColor": "#222", "labelPadding": 6}},
     "xOffset": {"field": "variant", "type": "nominal", "sort": ["AXC","EE–XC","YEE–XC","YE1–XC","YE2–XC"], "scale": {"paddingInner": 0, "paddingOuter": 0}},
     "y": {"field": "mean", "type": "quantitative", "scale": {"domain": [0, 100], "nice": false},
       "axis": {"title": "C•G-to-G•C editing yield (%)", "values": [0,10,20,30,40,50,60,70,80,90,100], "domainColor": "black", "domainWidth": 2.5, "tickColor": "black", "tickWidth": 2, "tickSize": 7, "labelFont": "Liberation Sans", "labelFontSize": 22, "labelColor": "#222", "labelPadding": 2, "titleFont": "Liberation Sans", "titleFontSize": 22, "titleFontWeight": "normal", "titleColor": "#222", "titlePadding": 10}},
     "fill": {"field": "variant", "type": "nominal",
       "scale": {"domain": ["AXC","_1","_2","_3","EE–XC","YEE–XC","YE1–XC","YE2–XC"], "range": ["#cbcbcb","#ffffff","#ffffff","#ffffff","#fdd57e","#ffe000","#f6a9a9","#f27c7a"]},
       "legend": {"orient": "bottom", "direction": "horizontal", "columns": 4, "title": null, "offset": 18, "padding": 0,
         "symbolType": "M-1,-1H2.6V1H-1Z", "symbolSize": 361, "symbolStrokeColor": "#333", "symbolStrokeWidth": 1.5, "symbolOpacity": 1,
         "labelFont": "Liberation Sans", "labelFontSize": 21, "labelColor": "#222", "labelOffset": 16, "columnPadding": 10, "rowPadding": 6, "labelLimit": 400,
         "labelExpr": "indexof(datum.label, '_') == 0 ? '' : datum.label",
         "encode": {"symbols": {"update": {"opacity": {"signal": "indexof(datum.value, '_') == 0 ? 0 : 1"}}}}}}
    }},
   {"transform": [{"filter": "datum.hi > datum.mean"}],
    "mark": {"type": "rule", "color": "black", "strokeWidth": 1.5},
    "encoding": {"x": {"field": "site", "type": "nominal"}, "xOffset": {"field": "variant", "type": "nominal", "sort": ["AXC","EE–XC","YEE–XC","YE1–XC","YE2–XC"]},
      "y": {"field": "mean", "type": "quantitative"}, "y2": {"field": "hi"}}},
   {"transform": [{"filter": "datum.hi > datum.mean"}],
    "mark": {"type": "tick", "color": "black", "thickness": 1.5, "size": 6},
    "encoding": {"x": {"field": "site", "type": "nominal"}, "xOffset": {"field": "variant", "type": "nominal", "sort": ["AXC","EE–XC","YEE–XC","YE1–XC","YE2–XC"]},
      "y": {"field": "hi", "type": "quantitative"}}},
   {"transform": [{"fold": ["r1","r2","r3"], "as": ["rep","val"]}],
    "mark": {"type": "circle", "color": "black", "opacity": 1, "size": 40},
    "encoding": {"x": {"field": "site", "type": "nominal"}, "xOffset": {"field": "variant", "type": "nominal", "sort": ["AXC","EE–XC","YEE–XC","YE1–XC","YE2–XC"]},
      "y": {"field": "val", "type": "quantitative"}}},
   {"transform": [{"aggregate": [{"op": "min", "field": "site", "as": "s0"}, {"op": "max", "field": "site", "as": "s1"}], "groupby": ["gene"]}],
    "mark": {"type": "rule", "color": "black", "strokeWidth": 2},
    "encoding": {"x": {"field": "s0", "type": "nominal", "bandPosition": 0}, "x2": {"field": "s1", "bandPosition": 1}, "y": {"datum": -12.6}}}
  ]}
},
{"data": {"name": "by"},
 "title": {"text": "b", "anchor": "start", "fontSize": 26, "fontWeight": "bold", "color": "#111", "offset": 4},
 "facet": {"column": {"field": "gene", "type": "nominal", "sort": ["HEK2","HEK3","HEK4","RNF2","EMX1"], "title": null,
   "header": {"labelOrient": "bottom", "labelFont": "Liberation Sans", "labelFontSize": 22, "labelColor": "#222", "labelPadding": 0,
     "labelFontStyle": {"expr": "(parent.gene == 'RNF2' || parent.gene == 'EMX1') ? 'italic' : 'normal'"}}}},
 "spacing": 0,
 "resolve": {"scale": {"x": "independent", "xOffset": "independent"}},
 "spec": {"width": {"step": 82, "for": "position"}, "height": 269,
  "layer": [
   {"mark": {"type": "bar", "stroke": "#444", "strokeWidth": 0.8},
    "encoding": {
     "x": {"field": "site", "type": "nominal", "scale": {"paddingInner": 0.126, "paddingOuter": 0.117},
       "axis": {"title": null, "labelAngle": 0, "ticks": false, "domainWidth": 3.5, "domainColor": "black", "labelFont": "Liberation Sans", "labelFontSize": 21, "labelColor": "#222", "labelPadding": 6}},
     "xOffset": {"field": "variant", "type": "nominal", "sort": ["AXC","AX–Sniper nCas9","AX–eSp(1.1)-nCas9","AX–HF-nCas9","AX–Hypa-nCas9","AX–eSp+HF-nCas9","AX–eSp+Hypa-nCas9","AX–HF+Hypan-Cas9","AX–eSp+HF+Hypa-nCas9"], "scale": {"paddingInner": 0, "paddingOuter": 0}},
     "y": {"field": "mean", "type": "quantitative", "scale": {"domain": [0, 100], "nice": false},
       "axis": {"title": "C•G-to-G•C editing yield (%)", "values": [0,10,20,30,40,50,60,70,80,90,100], "domainColor": "black", "domainWidth": 2.5, "tickColor": "black", "tickWidth": 2, "tickSize": 7, "labelFont": "Liberation Sans", "labelFontSize": 22, "labelColor": "#222", "labelPadding": 2, "titleFont": "Liberation Sans", "titleFontSize": 22, "titleFontWeight": "normal", "titleColor": "#222", "titlePadding": 10}},
     "fill": {"field": "variant", "type": "nominal",
       "scale": {"domain": ["AXC","_1","_2","_3","AX–Sniper nCas9","AX–HF-nCas9","AX–eSp+HF-nCas9","AX–HF+Hypan-Cas9","AX–eSp(1.1)-nCas9","AX–Hypa-nCas9","AX–eSp+Hypa-nCas9","AX–eSp+HF+Hypa-nCas9"],
                 "range": ["#cbcbcb","#ffffff","#ffffff","#ffffff","#d977af","#d2e3f5","#2fb783","#efbfdd","#777dc0","#cfa3cf","#a7cbee","#7b7eab"]},
       "legend": {"orient": "bottom", "direction": "horizontal", "columns": 4, "title": null, "offset": 18, "padding": 0,
         "symbolType": "M-1,-1H2.6V1H-1Z", "symbolSize": 361, "symbolStrokeColor": "#333", "symbolStrokeWidth": 1.5, "symbolOpacity": 1,
         "labelFont": "Liberation Sans", "labelFontSize": 21, "labelColor": "#222", "labelOffset": 16, "columnPadding": 10, "rowPadding": 6, "labelLimit": 400,
         "labelExpr": "indexof(datum.label, '_') == 0 ? '' : datum.label",
         "encode": {"symbols": {"update": {"opacity": {"signal": "indexof(datum.value, '_') == 0 ? 0 : 1"}}}}}}
    }},
   {"transform": [{"filter": "datum.hi > datum.mean"}],
    "mark": {"type": "rule", "color": "black", "strokeWidth": 1.5},
    "encoding": {"x": {"field": "site", "type": "nominal"}, "xOffset": {"field": "variant", "type": "nominal", "sort": ["AXC","AX–Sniper nCas9","AX–eSp(1.1)-nCas9","AX–HF-nCas9","AX–Hypa-nCas9","AX–eSp+HF-nCas9","AX–eSp+Hypa-nCas9","AX–HF+Hypan-Cas9","AX–eSp+HF+Hypa-nCas9"]},
      "y": {"field": "mean", "type": "quantitative"}, "y2": {"field": "hi"}}},
   {"transform": [{"filter": "datum.hi > datum.mean"}],
    "mark": {"type": "tick", "color": "black", "thickness": 1.5, "size": 6},
    "encoding": {"x": {"field": "site", "type": "nominal"}, "xOffset": {"field": "variant", "type": "nominal", "sort": ["AXC","AX–Sniper nCas9","AX–eSp(1.1)-nCas9","AX–HF-nCas9","AX–Hypa-nCas9","AX–eSp+HF-nCas9","AX–eSp+Hypa-nCas9","AX–HF+Hypan-Cas9","AX–eSp+HF+Hypa-nCas9"]},
      "y": {"field": "hi", "type": "quantitative"}}},
   {"transform": [{"fold": ["r1","r2","r3"], "as": ["rep","val"]}],
    "mark": {"type": "circle", "color": "black", "opacity": 1, "size": 40},
    "encoding": {"x": {"field": "site", "type": "nominal"}, "xOffset": {"field": "variant", "type": "nominal", "sort": ["AXC","AX–Sniper nCas9","AX–eSp(1.1)-nCas9","AX–HF-nCas9","AX–Hypa-nCas9","AX–eSp+HF-nCas9","AX–eSp+Hypa-nCas9","AX–HF+Hypan-Cas9","AX–eSp+HF+Hypa-nCas9"]},
      "y": {"field": "val", "type": "quantitative"}}},
   {"transform": [{"aggregate": [{"op": "min", "field": "site", "as": "s0"}, {"op": "max", "field": "site", "as": "s1"}], "groupby": ["gene"]}],
    "mark": {"type": "rule", "color": "black", "strokeWidth": 2},
    "encoding": {"x": {"field": "s0", "type": "nominal", "bandPosition": 0}, "x2": {"field": "s1", "bandPosition": 1}, "y": {"datum": -12.6}}}
  ]}
}
], "spacing": 64, "resolve": {"scale": {"x": "independent", "xOffset": "independent", "y": "independent", "fill": "independent"}, "axis": {"x": "independent", "y": "independent"}, "legend": {"fill": "independent"}}},
{"hconcat": [
{"data": {"name": "ap"},
 "facet": {"column": {"field": "gene", "type": "nominal", "sort": ["HEK2","HEK3","HEK4","RNF2","EMX1"], "title": null,
   "header": {"labelOrient": "bottom", "labelFont": "Liberation Sans", "labelFontSize": 22, "labelColor": "#222", "labelPadding": 0,
     "labelFontStyle": {"expr": "(parent.gene == 'RNF2' || parent.gene == 'EMX1') ? 'italic' : 'normal'"}}}},
 "spacing": 0,
 "resolve": {"scale": {"x": "independent", "xOffset": "independent"}},
 "spec": {"width": {"step": 46.4, "for": "position"}, "height": 269,
  "layer": [
   {"mark": {"type": "bar", "stroke": "#444", "strokeWidth": 0.8},
    "encoding": {
     "x": {"field": "site", "type": "nominal", "scale": {"paddingInner": 0.223, "paddingOuter": 0.17},
       "axis": {"title": null, "labelAngle": 0, "ticks": false, "domainWidth": 3.5, "domainColor": "black", "labelFont": "Liberation Sans", "labelFontSize": 21, "labelColor": "#222", "labelPadding": 6}},
     "xOffset": {"field": "variant", "type": "nominal", "sort": ["AXC","EE–XC","YEE–XC","YE1–XC","YE2–XC"], "scale": {"paddingInner": 0, "paddingOuter": 0}},
     "y": {"field": "mean", "type": "quantitative", "scale": {"domain": [0, 100], "nice": false},
       "axis": {"title": "C•G-to-G•C editing purity (%)", "values": [0,10,20,30,40,50,60,70,80,90,100], "domainColor": "black", "domainWidth": 2.5, "tickColor": "black", "tickWidth": 2, "tickSize": 7, "labelFont": "Liberation Sans", "labelFontSize": 22, "labelColor": "#222", "labelPadding": 2, "titleFont": "Liberation Sans", "titleFontSize": 22, "titleFontWeight": "normal", "titleColor": "#222", "titlePadding": 10}},
     "fill": {"field": "variant", "type": "nominal",
       "scale": {"domain": ["AXC","_1","_2","_3","EE–XC","YEE–XC","YE1–XC","YE2–XC"], "range": ["#cbcbcb","#ffffff","#ffffff","#ffffff","#fdd57e","#ffe000","#f6a9a9","#f27c7a"]},
       "legend": null}
    }},
   {"transform": [{"filter": "datum.hi > datum.mean"}],
    "mark": {"type": "rule", "color": "black", "strokeWidth": 1.5},
    "encoding": {"x": {"field": "site", "type": "nominal"}, "xOffset": {"field": "variant", "type": "nominal", "sort": ["AXC","EE–XC","YEE–XC","YE1–XC","YE2–XC"]},
      "y": {"field": "mean", "type": "quantitative"}, "y2": {"field": "hi"}}},
   {"transform": [{"filter": "datum.hi > datum.mean"}],
    "mark": {"type": "tick", "color": "black", "thickness": 1.5, "size": 6},
    "encoding": {"x": {"field": "site", "type": "nominal"}, "xOffset": {"field": "variant", "type": "nominal", "sort": ["AXC","EE–XC","YEE–XC","YE1–XC","YE2–XC"]},
      "y": {"field": "hi", "type": "quantitative"}}},
   {"transform": [{"fold": ["r1","r2","r3"], "as": ["rep","val"]}],
    "mark": {"type": "circle", "color": "black", "opacity": 1, "size": 40},
    "encoding": {"x": {"field": "site", "type": "nominal"}, "xOffset": {"field": "variant", "type": "nominal", "sort": ["AXC","EE–XC","YEE–XC","YE1–XC","YE2–XC"]},
      "y": {"field": "val", "type": "quantitative"}}},
   {"transform": [{"aggregate": [{"op": "min", "field": "site", "as": "s0"}, {"op": "max", "field": "site", "as": "s1"}], "groupby": ["gene"]}],
    "mark": {"type": "rule", "color": "black", "strokeWidth": 2},
    "encoding": {"x": {"field": "s0", "type": "nominal", "bandPosition": 0}, "x2": {"field": "s1", "bandPosition": 1}, "y": {"datum": -12.6}}}
  ]}
},
{"data": {"name": "bp"},
 "facet": {"column": {"field": "gene", "type": "nominal", "sort": ["HEK2","HEK3","HEK4","RNF2","EMX1"], "title": null,
   "header": {"labelOrient": "bottom", "labelFont": "Liberation Sans", "labelFontSize": 22, "labelColor": "#222", "labelPadding": 0,
     "labelFontStyle": {"expr": "(parent.gene == 'RNF2' || parent.gene == 'EMX1') ? 'italic' : 'normal'"}}}},
 "spacing": 0,
 "resolve": {"scale": {"x": "independent", "xOffset": "independent"}},
 "spec": {"width": {"step": 82, "for": "position"}, "height": 269,
  "layer": [
   {"mark": {"type": "bar", "stroke": "#444", "strokeWidth": 0.8},
    "encoding": {
     "x": {"field": "site", "type": "nominal", "scale": {"paddingInner": 0.126, "paddingOuter": 0.117},
       "axis": {"title": null, "labelAngle": 0, "ticks": false, "domainWidth": 3.5, "domainColor": "black", "labelFont": "Liberation Sans", "labelFontSize": 21, "labelColor": "#222", "labelPadding": 6}},
     "xOffset": {"field": "variant", "type": "nominal", "sort": ["AXC","AX–Sniper nCas9","AX–eSp(1.1)-nCas9","AX–HF-nCas9","AX–Hypa-nCas9","AX–eSp+HF-nCas9","AX–eSp+Hypa-nCas9","AX–HF+Hypan-Cas9","AX–eSp+HF+Hypa-nCas9"], "scale": {"paddingInner": 0, "paddingOuter": 0}},
     "y": {"field": "mean", "type": "quantitative", "scale": {"domain": [0, 100], "nice": false},
       "axis": {"title": "C•G-to-G•C editing purity (%)", "values": [0,10,20,30,40,50,60,70,80,90,100], "domainColor": "black", "domainWidth": 2.5, "tickColor": "black", "tickWidth": 2, "tickSize": 7, "labelFont": "Liberation Sans", "labelFontSize": 22, "labelColor": "#222", "labelPadding": 2, "titleFont": "Liberation Sans", "titleFontSize": 22, "titleFontWeight": "normal", "titleColor": "#222", "titlePadding": 10}},
     "fill": {"field": "variant", "type": "nominal",
       "scale": {"domain": ["AXC","_1","_2","_3","AX–Sniper nCas9","AX–HF-nCas9","AX–eSp+HF-nCas9","AX–HF+Hypan-Cas9","AX–eSp(1.1)-nCas9","AX–Hypa-nCas9","AX–eSp+Hypa-nCas9","AX–eSp+HF+Hypa-nCas9"],
                 "range": ["#cbcbcb","#ffffff","#ffffff","#ffffff","#d977af","#d2e3f5","#2fb783","#efbfdd","#777dc0","#cfa3cf","#a7cbee","#7b7eab"]},
       "legend": null}
    }},
   {"transform": [{"filter": "datum.hi > datum.mean"}],
    "mark": {"type": "rule", "color": "black", "strokeWidth": 1.5},
    "encoding": {"x": {"field": "site", "type": "nominal"}, "xOffset": {"field": "variant", "type": "nominal", "sort": ["AXC","AX–Sniper nCas9","AX–eSp(1.1)-nCas9","AX–HF-nCas9","AX–Hypa-nCas9","AX–eSp+HF-nCas9","AX–eSp+Hypa-nCas9","AX–HF+Hypan-Cas9","AX–eSp+HF+Hypa-nCas9"]},
      "y": {"field": "mean", "type": "quantitative"}, "y2": {"field": "hi"}}},
   {"transform": [{"filter": "datum.hi > datum.mean"}],
    "mark": {"type": "tick", "color": "black", "thickness": 1.5, "size": 6},
    "encoding": {"x": {"field": "site", "type": "nominal"}, "xOffset": {"field": "variant", "type": "nominal", "sort": ["AXC","AX–Sniper nCas9","AX–eSp(1.1)-nCas9","AX–HF-nCas9","AX–Hypa-nCas9","AX–eSp+HF-nCas9","AX–eSp+Hypa-nCas9","AX–HF+Hypan-Cas9","AX–eSp+HF+Hypa-nCas9"]},
      "y": {"field": "hi", "type": "quantitative"}}},
   {"transform": [{"fold": ["r1","r2","r3"], "as": ["rep","val"]}],
    "mark": {"type": "circle", "color": "black", "opacity": 1, "size": 40},
    "encoding": {"x": {"field": "site", "type": "nominal"}, "xOffset": {"field": "variant", "type": "nominal", "sort": ["AXC","AX–Sniper nCas9","AX–eSp(1.1)-nCas9","AX–HF-nCas9","AX–Hypa-nCas9","AX–eSp+HF-nCas9","AX–eSp+Hypa-nCas9","AX–HF+Hypan-Cas9","AX–eSp+HF+Hypa-nCas9"]},
      "y": {"field": "val", "type": "quantitative"}}},
   {"transform": [{"aggregate": [{"op": "min", "field": "site", "as": "s0"}, {"op": "max", "field": "site", "as": "s1"}], "groupby": ["gene"]}],
    "mark": {"type": "rule", "color": "black", "strokeWidth": 2},
    "encoding": {"x": {"field": "s0", "type": "nominal", "bandPosition": 0}, "x2": {"field": "s1", "bandPosition": 1}, "y": {"datum": -12.6}}}
  ]}
}
], "spacing": 64, "resolve": {"scale": {"x": "independent", "xOffset": "independent", "y": "independent", "fill": "independent"}, "axis": {"x": "independent", "y": "independent"}, "legend": {"fill": "independent"}}}
]
}
